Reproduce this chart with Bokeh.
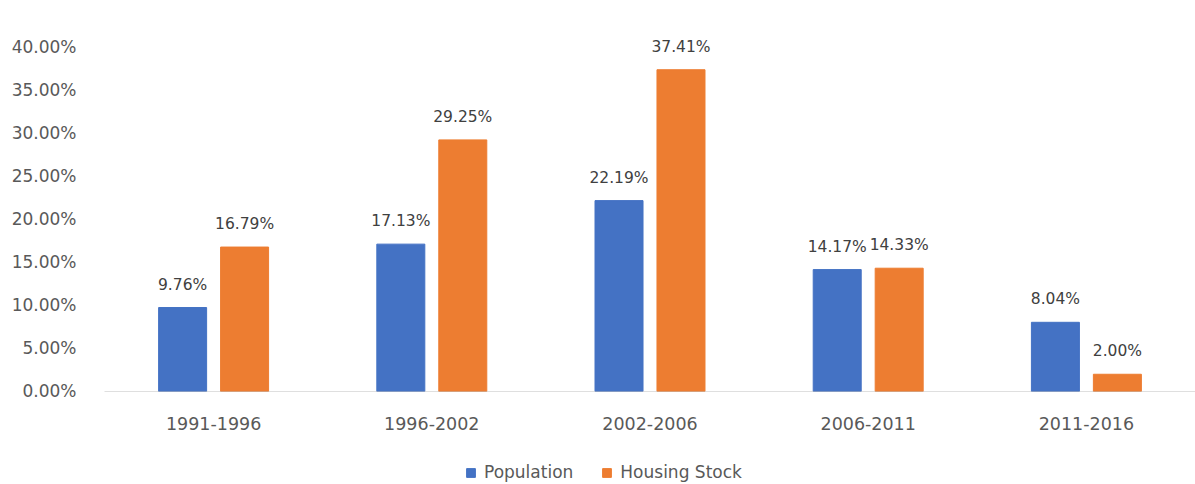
from bokeh.plotting import figure
from bokeh.models import ColumnDataSource, FactorRange, Range1d, Legend, LegendItem, FixedTicker
from bokeh.transform import dodge
from bokeh.core.properties import value
from bokeh.embed import file_html
from bokeh.resources import INLINE

periods = ["1991-1996", "1996-2002", "2002-2006", "2006-2011", "2011-2016"]
population = [9.76, 17.13, 22.19, 14.17, 8.04]
housing = [16.79, 29.25, 37.41, 14.33, 2.00]
y_ticks = [0, 5, 10, 15, 20, 25, 30, 35, 40]

src = ColumnDataSource(dict(
    cat=periods,
    pop=population,
    hous=housing,
    pop_lbl=[f"{v:.2f}%" for v in population],
    hous_lbl=[f"{v:.2f}%" for v in housing],
))

FONT = "DejaVu Sans"
BLUE = "#4472C4"
ORANGE = "#ED7D31"

p = figure(x_range=FactorRange(*periods), y_range=Range1d(-10.82, 44.53),
           frame_width=1091, frame_height=476,
           min_border_left=104, min_border_right=0, min_border_top=8, min_border_bottom=0,
           output_backend="svg", toolbar_location=None)
p.outline_line_color = None
p.xgrid.grid_line_color = None
p.ygrid.grid_line_color = None
p.x_range.range_padding = 0

r1 = p.vbar(x=dodge("cat", -0.142, range=p.x_range), top="pop", bottom=0, width=0.22, source=src,
            fill_color=BLUE, line_color=BLUE)
r2 = p.vbar(x=dodge("cat", 0.142, range=p.x_range), top="hous", bottom=0, width=0.22, source=src,
            fill_color=ORANGE, line_color=ORANGE)

p.text(x=dodge("cat", -0.142, range=p.x_range), y="pop", text="pop_lbl", source=src,
       text_align="center", text_baseline="middle", y_offset=-23,
       text_font=value(FONT), text_font_size="15.5px", text_color="#404040")
p.text(x=dodge("cat", 0.142, range=p.x_range), y="hous", text="hous_lbl", source=src,
       text_align="center", text_baseline="middle", y_offset=-23,
       text_font=value(FONT), text_font_size="15.5px", text_color="#404040")

p.yaxis.ticker = FixedTicker(ticks=y_ticks)
p.yaxis.major_label_overrides = {t: f"{t:.2f}%" for t in y_ticks}
p.yaxis.axis_line_color = None
p.yaxis.major_tick_line_color = None
p.yaxis.minor_tick_line_color = None
p.yaxis.major_label_standoff = 22
p.yaxis.major_label_text_font = FONT
p.yaxis.major_label_text_font_size = "17px"
p.yaxis.major_label_text_color = "#595959"

p.xaxis.fixed_location = 0
p.xaxis.axis_line_color = "#bfbfbf"
p.xaxis.axis_line_dash = "1 1"
p.xaxis.major_tick_line_color = None
p.xaxis.minor_tick_line_color = None
p.xaxis.major_label_standoff = 20
p.xaxis.major_label_text_font = FONT
p.xaxis.major_label_text_font_size = "17.5px"
p.xaxis.major_label_text_color = "#595959"

legend = Legend(items=[LegendItem(label="Population", renderers=[r1]),
                       LegendItem(label="Housing Stock", renderers=[r2])],
                orientation="horizontal", location=(361, 2),
                label_text_font=FONT, label_text_font_size="17px", label_text_color="#595959",
                glyph_width=11, glyph_height=11, spacing=28, label_standoff=8,
                border_line_color=None, background_fill_alpha=0, margin=0, padding=4)
p.add_layout(legend, "center")

open("out.html", "w").write(file_html(p, INLINE))
